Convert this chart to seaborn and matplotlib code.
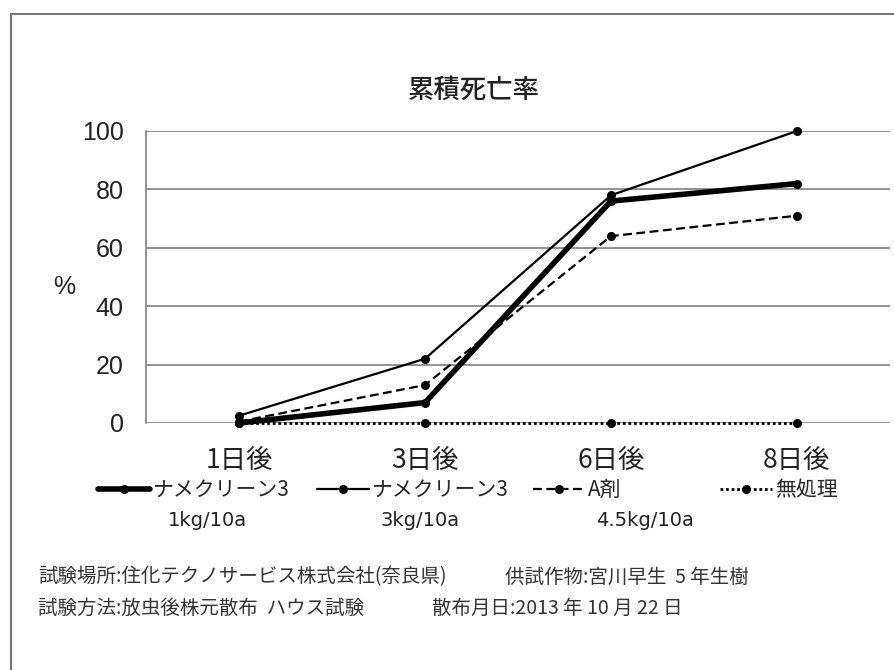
import matplotlib
matplotlib.use("Agg")
import matplotlib.pyplot as plt
import matplotlib.patches as mpatches
from matplotlib.lines import Line2D
import seaborn as sns
import pandas as pd

# data
days = ["1日後", "3日後", "6日後", "8日後"]
series_names = ["ナメクリーン3 1kg/10a", "ナメクリーン3 3kg/10a", "A剤 4.5kg/10a", "無処理"]
legend_labels = ["ナメクリーン3", "ナメクリーン3", "A剤", "無処理"]
dose_labels = ["1kg/10a", "3kg/10a", "4.5kg/10a"]
mortality_1kg = [0, 7, 76, 82]
mortality_3kg = [2.5, 22, 78, 100]
mortality_a = [0.5, 13, 64, 71]
mortality_none = [0, 0, 0, 0]
title = "累積死亡率"
notes = [("試験場所:住化テクノサービス株式会社(奈良県)", "供試作物:宮川早生  5 年生樹"),
         ("試験方法:放虫後株元散布  ハウス試験", "散布月日:2013 年 10 月 22 日")]

sns.set_style("white")
plt.rcParams['font.family'] = ['Noto Sans CJK JP', 'DejaVu Sans']

df = pd.DataFrame({
    "day": list(range(len(days))) * 4,
    "value": mortality_1kg + mortality_3kg + mortality_a + mortality_none,
    "series": sum([[s] * len(days) for s in series_names], []),
})

styles = {
    series_names[0]: dict(lw=4.0, ls="-"),
    series_names[1]: dict(lw=1.6, ls="-"),
    series_names[2]: dict(lw=1.6, ls=(0, (4, 2))),
    series_names[3]: dict(lw=2.0, ls=(0, (1, 1))),
}

fig = plt.figure(figsize=(8.95, 6.70), dpi=100)
ax = fig.add_axes([146 / 895, 1 - 423 / 670, 744 / 895, 292 / 670])

handles = []
for name in series_names:
    st = styles[name]
    sns.lineplot(data=df[df["series"] == name], x="day", y="value", ax=ax,
                 color="black", linewidth=st["lw"], linestyle=st["ls"],
                 marker="o", markersize=6.5, markeredgewidth=0, legend=False,
                 clip_on=False, zorder=3)
    handles.append(Line2D([0], [0], color="black", lw=st["lw"], ls=st["ls"],
                          marker="o", markersize=6.5, markeredgewidth=0))

ax.set_xlim(-0.5, 3.5)
ax.set_ylim(0, 100)
ax.set_yticks([0, 20, 40, 60, 80, 100])
ax.set_yticklabels([str(v) for v in [0, 20, 40, 60, 80, 100]], fontsize=18, family="Liberation Sans")
ax.set_xticks(range(len(days)))
ax.set_xticklabels(days, fontsize=19)
ax.tick_params(axis="y", length=0, pad=16, labelcolor="#222222")
ax.tick_params(axis="x", length=0, pad=17, labelcolor="#222222")
ax.set_xlabel("")
ax.set_ylabel("")
ax.yaxis.grid(True, color="#8a8a8a", linewidth=1.3)
ax.set_axisbelow(True)
for s in ["top", "right", "bottom"]:
    ax.spines[s].set_visible(False)
ax.spines["left"].set_color("#8a8a8a")
ax.spines["left"].set_linewidth(1.3)

fig.text(474 / 895, 1 - 90 / 670, title, ha="center", va="center", fontsize=19,
         fontweight="medium", color="#222222")
fig.text(64 / 895, 1 - 287 / 670, "%", ha="center", va="center", fontsize=18,
         family="Liberation Sans", color="#222222")

# legend entries placed one by one, as in the original layout
leg_x = [98, 317, 533, 720]
for h, lab, x in zip(handles, legend_labels, leg_x):
    fig.legend([h], [lab], loc="center left", bbox_to_anchor=(x / 895, 1 - 490 / 670),
               frameon=False, fontsize=15, handlelength=2.5, handletextpad=0.15,
               borderpad=0, borderaxespad=0)

for lab, x in zip(dose_labels, [207, 420, 645]):
    fig.text(x / 895, 1 - 521 / 670, lab, ha="center", va="center", fontsize=14,
             family="DejaVu Sans", color="#222222")

for (left, right), y in zip(notes, [577, 608]):
    fig.text(38 / 895, 1 - y / 670, left, ha="left", va="center", fontsize=14, color="#333333")
fig.text(505 / 895, 1 - 577 / 670, notes[0][1], ha="left", va="center", fontsize=14, color="#333333")
fig.text(432 / 895, 1 - 608 / 670, notes[1][1], ha="left", va="center", fontsize=14, color="#333333")

# outer frame of the chart area
fig.patches.append(mpatches.Rectangle((11 / 895, -0.05), 1.0, 1 - 14 / 670 + 0.05,
                                      transform=fig.transFigure, fill=False,
                                      edgecolor="#777777", linewidth=1.5))

fig.savefig("out.png", dpi=100)
